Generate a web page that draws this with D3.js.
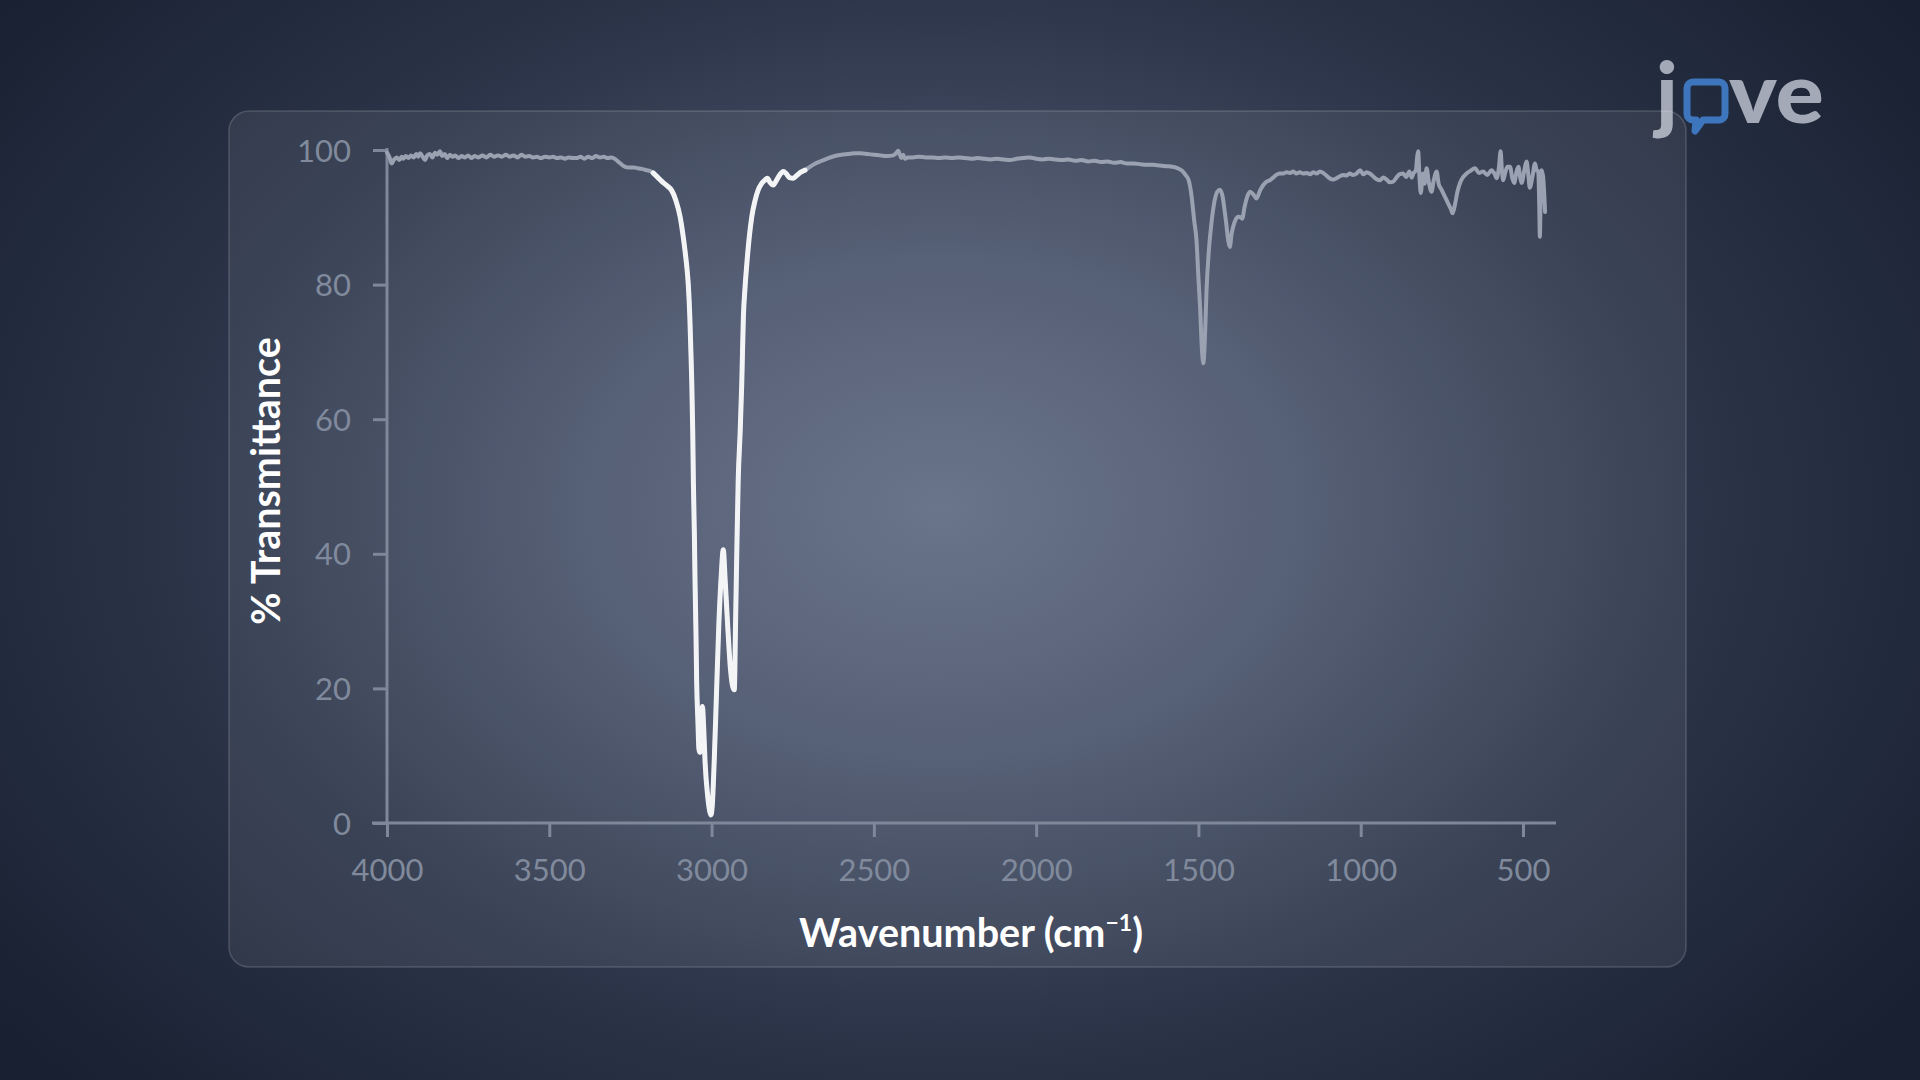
<!DOCTYPE html>
<html>
<head>
<meta charset="utf-8">
<script src="https://cdn.jsdelivr.net/npm/d3@7"></script>
<style>
  html, body { margin: 0; padding: 0; background: #1a2233; }
  svg { display: block; }
</style>
</head>
<body>
<svg id="chart" width="1920" height="1080"></svg>
<script>
// ---- Data (wavenumber cm-1, % transmittance) ----
const wavenumbers = [
 4000,3992,3986,3978,3970,3962,3955,3950,3942,3934,3926,3918,3910,3904,3898,3890,3883,3876,3868,3860,
 3852,3845,3837,3830,3822,3815,3806,3798,3790,3780,3770,3760,3750,3740,3730,3718,3706,3694,3682,3670,
 3658,3646,3634,3622,3610,3598,3586,3574,3562,3550,3538,3526,3514,3500,3488,3476,3464,3452,3440,3428,
 3416,3404,3392,3380,3368,3356,3344,3332,3320,3308,3296,3286,3276,3266,3255,3240,3228,3215,3200,3190,
 3180,3165,3150,3135,3123,3110,3097,3089,3082,3076,3072,3067,3064,3061,3058,3056,3053,3051,3048,3046,
 3042,3039,3036,3032,3028,3025,3020,3012,3006,3002,2998,2992,2985,2978,2970,2964,2958,2950,2942,2935,
 2930,2926,2922,2918,2912,2907,2902,2897,2892,2884,2876,2866,2856,2846,2836,2828,2820,2810,2800,2790,
 2779,2770,2760,2748,2738,2725,2712,
 2700,2680,2660,2640,2620,2600,2580,2560,2540,2520,2500,2480,2460,2440,2430,2425,2420,2415,2410,2404,
 2395,2380,2360,2340,2320,2300,2280,2260,2240,2220,2200,2180,2160,2140,2120,2100,2080,2060,2040,2020,
 2000,1980,1960,1940,1920,1900,1880,1860,1840,1820,1800,1780,1760,1740,1720,1700,1680,1660,1640,1620,
 1600,1580,1565,1550,1540,1530,1521,1513,1506,1500,1495,1490,1485,1480,1475,1468,1460,1450,1442,1434,
 1426,1418,1413,1408,1403,1398,1393,1385,1377,1370,1365,1358,1350,1341,1331,1321,1310,1300,1290,1280,
 1270,1260,1250,1239,1228,1218,1208,1198,1188,1177,1166,1156,1146,1136,1126,1116,1106,1096,1085,1075,
 1064,1054,1044,1034,1024,1013,1002,992,982,972,962,952,941,930,920,910,900,890,880,869,
 860,850,843,838,830,826,823,819,815,808,803,797,790,782,775,766,760,751,740,730,
 722,717,710,702,694,684,674,662,648,636,623,610,597,588,581,574,569,565,561,554,
 548,540,533,527,520,514,509,504,496,489,484,479,471,463,458,453,450,448,446,443,
 438,432
];
const transmittance = [
 99.6,98.9,98.0,98.6,98.9,98.5,99.0,98.7,99.1,98.8,99.2,98.9,99.4,99.0,99.5,99.0,98.5,99.2,99.4,98.9,
 99.6,99.3,99.8,99.1,99.4,98.8,99.3,99.0,99.2,98.8,99.1,98.9,99.2,98.8,99.1,98.9,99.2,98.9,99.3,99.0,
 99.2,99.0,99.3,99.0,99.2,98.9,99.3,99.0,99.1,98.9,99.0,98.8,99.0,98.9,99.0,98.8,98.9,98.7,98.9,98.8,
 98.8,99.0,98.7,99.0,98.8,99.1,98.9,99.0,98.8,98.9,98.6,98.2,97.8,97.5,97.4,97.4,97.3,97.2,97.0,96.9,
 96.6,95.9,95.2,94.6,94.0,92.5,90.1,87.7,85.1,82.5,80.2,75.2,70.5,65.4,58.0,50.5,43.0,36.1,28.0,21.2,
 15.0,11.0,10.5,14.0,17.3,15.0,9.0,4.0,1.8,1.2,2.5,9.0,19.0,29.0,37.0,40.6,36.0,29.0,23.0,20.3,
 19.8,30.0,41.0,50.8,58.0,65.3,75.2,79.5,82.7,87.0,90.1,92.5,94.1,95.0,95.5,95.8,95.2,94.8,95.5,96.3,
 96.8,96.5,95.9,95.8,96.2,96.7,97.0,
 97.4,98.0,98.4,98.8,99.1,99.3,99.4,99.5,99.5,99.4,99.3,99.2,99.1,99.2,99.6,99.9,99.3,98.8,99.3,98.7,
 98.9,98.9,99.0,98.9,98.9,98.8,98.9,98.8,98.9,98.8,98.7,98.8,98.7,98.6,98.7,98.6,98.5,98.7,98.8,98.9,
 98.7,98.6,98.7,98.6,98.5,98.6,98.4,98.5,98.3,98.4,98.2,98.3,98.1,98.2,98.0,98.0,97.9,97.8,97.8,97.7,
 97.6,97.5,97.3,96.9,96.3,95.5,93.1,89.5,86.6,81.0,76.7,71.0,68.3,72.0,79.2,85.0,89.1,92.5,93.8,94.1,
 93.2,90.5,88.5,86.5,85.6,87.5,88.6,89.7,90.1,90.0,89.8,91.5,93.0,93.8,93.4,92.8,94.0,94.8,95.3,95.5,
 95.9,96.3,96.5,96.5,96.7,96.6,96.8,96.5,96.7,96.5,96.6,96.4,96.7,96.5,96.8,96.6,96.2,95.8,95.6,95.8,
 96.1,96.3,96.2,96.5,96.3,96.5,97.0,96.4,96.7,96.5,96.1,95.7,95.5,95.9,95.6,95.2,95.3,95.9,96.4,96.5,
 96.0,96.8,95.9,96.5,97.0,99.0,99.8,96.0,93.6,96.5,95.0,97.3,95.2,93.8,95.5,96.8,95.0,94.1,93.0,92.0,
 91.2,90.6,91.8,93.8,95.1,96.0,96.5,96.9,97.3,96.6,96.8,96.3,97.0,96.5,95.8,97.5,99.8,97.0,95.5,96.8,
 97.5,97.5,95.8,95.1,96.8,97.5,96.0,95.1,97.0,98.3,96.5,94.4,96.0,98.0,97.0,96.8,92.0,87.1,92.0,97.0,
 96.0,90.8
];
// highlighted C–H stretch region (drawn in white)
const highlightRange = [3180, 2712];

const xTicks = [4000, 3500, 3000, 2500, 2000, 1500, 1000, 500];
const yTicks = [0, 20, 40, 60, 80, 100];
const xTitle = "Wavenumber (cm";
const xTitleSup = "−1";
const yTitle = "% Transmittance";

// ---- Drawing ----
const svg = d3.select("#chart");
const defs = svg.append("defs");

const bg = defs.append("radialGradient").attr("id", "bg")
  .attr("cx", 0.49).attr("cy", 0.47).attr("r", 0.62)
  .attr("gradientTransform", "translate(0.49,0.47) scale(1,1.25) translate(-0.49,-0.47)");
bg.append("stop").attr("offset", "0%").attr("stop-color", "#5f6a82");
bg.append("stop").attr("offset", "30%").attr("stop-color", "#4a546c");
bg.append("stop").attr("offset", "62%").attr("stop-color", "#2c3549");
bg.append("stop").attr("offset", "100%").attr("stop-color", "#182031");

svg.append("rect").attr("width", 1920).attr("height", 1080).attr("fill", "url(#bg)");

// logo
const logo = svg.append("g").attr("class", "logo");
logo.append("text").attr("x", 1656).attr("y", 123)
  .attr("font-family", "Lato").attr("font-weight", 900).attr("font-size", 84)
  .attr("fill", "#a3a9b6").text("j");
logo.append("path")
  .attr("d", "M1693,82 h26 a6,6 0 0 1 6,6 v26 a6,6 0 0 1 -6,6 h-16 l-8,11 l1,-11 h-3 a6,6 0 0 1 -6,-6 v-26 a6,6 0 0 1 6,-6 z")
  .attr("fill", "none").attr("stroke", "#3d76bd").attr("stroke-width", 7).attr("stroke-linejoin", "round");
logo.append("text").attr("x", 1729).attr("y", 123)
  .attr("font-family", "Lato").attr("font-weight", 900).attr("font-size", 84)
  .attr("textLength", 95).attr("lengthAdjust", "spacingAndGlyphs")
  .attr("fill", "#a3a9b6").text("ve");

// panel
svg.append("rect")
  .attr("x", 229).attr("y", 111).attr("width", 1457).attr("height", 856)
  .attr("rx", 20).attr("ry", 20)
  .attr("fill", "rgba(255,255,255,0.07)")
  .attr("stroke", "rgba(255,255,255,0.16)").attr("stroke-width", 1.5);

const x = d3.scaleLinear().domain([4000, 500]).range([387, 1523]);
const y = d3.scaleLinear().domain([0, 100]).range([823, 150]);

const axisColor = "#7f889b";
const labelColor = "#808a9c";

// x axis
const gx = svg.append("g").attr("transform", `translate(0,${y(0)})`)
  .call(d3.axisBottom(x).tickValues(xTicks).tickSize(14).tickPadding(22).tickFormat(d3.format("d")));
gx.select(".domain").remove();
gx.selectAll(".tick line").attr("stroke", axisColor).attr("stroke-width", 3);
gx.selectAll(".tick text").attr("fill", labelColor).attr("font-family", "Lato")
  .attr("font-size", 31).attr("dy", "0.71em");
svg.append("line").attr("x1", 372).attr("x2", 1556).attr("y1", y(0)).attr("y2", y(0))
  .attr("stroke", axisColor).attr("stroke-width", 3);

// y axis
const gy = svg.append("g").attr("transform", `translate(${x(4000)},0)`)
  .call(d3.axisLeft(y).tickValues(yTicks).tickSize(14).tickPadding(22));
gy.select(".domain").remove();
gy.selectAll(".tick line").attr("stroke", axisColor).attr("stroke-width", 3);
gy.selectAll(".tick text").attr("fill", labelColor).attr("font-family", "Lato")
  .attr("font-size", 31).attr("dy", "0.36em");
svg.append("line").attr("x1", x(4000)).attr("x2", x(4000)).attr("y1", y(0) + 1.5).attr("y2", y(100) - 2)
  .attr("stroke", axisColor).attr("stroke-width", 3);

// spectrum
const pts = wavenumbers.map((w, i) => ({ w, t: transmittance[i] }));
const line = d3.line().x(d => x(d.w)).y(d => y(d.t)).curve(d3.curveMonotoneX);

svg.append("path").datum(pts).attr("d", line)
  .attr("fill", "none").attr("stroke", "#9aa2b1").attr("stroke-width", 4)
  .attr("stroke-linejoin", "round").attr("stroke-linecap", "round");

const hi = pts.filter(d => d.w <= highlightRange[0] && d.w >= highlightRange[1]);
svg.append("path").datum(hi).attr("d", line)
  .attr("fill", "none").attr("stroke", "#f3f4f6").attr("stroke-width", 5)
  .attr("stroke-linejoin", "round").attr("stroke-linecap", "round");

// titles
const xt = svg.append("text").attr("x", 971).attr("y", 947).attr("text-anchor", "middle")
  .attr("font-family", "Lato").attr("font-weight", 700).attr("font-size", 39.5).attr("fill", "#ffffff");
xt.append("tspan").text(xTitle);
xt.append("tspan").attr("font-size", 23).attr("dy", -16).text(xTitleSup);
xt.append("tspan").attr("dy", 16).text(")");

svg.append("text").attr("transform", "translate(280,481) rotate(-90)")
  .attr("text-anchor", "middle")
  .attr("font-family", "Lato").attr("font-weight", 700).attr("font-size", 39.5).attr("fill", "#ffffff")
  .text(yTitle);
</script>
</body>
</html>
